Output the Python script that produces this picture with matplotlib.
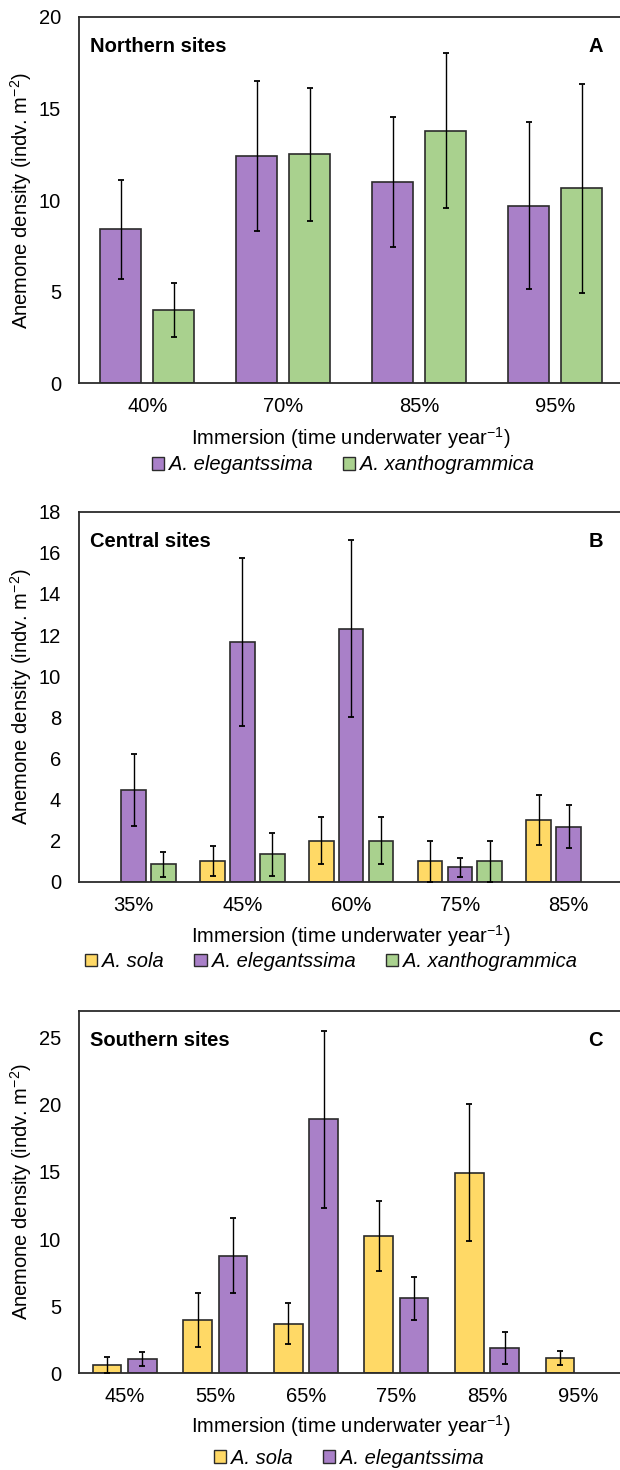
import matplotlib.pyplot as plt
import numpy as np
from matplotlib.patches import Patch
from matplotlib import rcParams

rcParams['font.family'] = ['Liberation Sans', 'DejaVu Sans']
rcParams['mathtext.fontset'] = 'custom'
rcParams['mathtext.rm'] = 'Liberation Sans'
rcParams['mathtext.it'] = 'Liberation Sans:italic'

# panel A - northern sites
cats_a = ['40%', '70%', '85%', '95%']
eleg_a = [8.4, 12.4, 11.0, 9.7]
eleg_a_err = [2.7, 4.1, 3.55, 4.55]
xan_a = [4.0, 12.5, 13.8, 10.65]
xan_a_err = [1.45, 3.65, 4.25, 5.7]

# panel B - central sites
cats_b = ['35%', '45%', '60%', '75%', '85%']
sola_b = [np.nan, 1.0, 2.0, 1.0, 3.0]
sola_b_err = [np.nan, 0.72, 1.13, 1.0, 1.22]
eleg_b = [4.45, 11.65, 12.3, 0.7, 2.68]
eleg_b_err = [1.76, 4.08, 4.3, 0.45, 1.05]
xan_b = [0.85, 1.33, 2.0, 1.0, np.nan]
xan_b_err = [0.6, 1.05, 1.13, 1.0, np.nan]

# panel C - southern sites
cats_c = ['45%', '55%', '65%', '75%', '85%', '95%']
sola_c = [0.65, 3.95, 3.7, 10.25, 14.95, 1.15]
sola_c_err = [0.6, 2.0, 1.55, 2.6, 5.1, 0.5]
eleg_c = [1.05, 8.75, 18.9, 5.57, 1.9, np.nan]
eleg_c_err = [0.5, 2.8, 6.6, 1.6, 1.2, np.nan]

PURPLE = '#a980c8'
GREEN = '#a9d18e'
YELLOW = '#ffd966'
EDGE = '#2b2b2b'
FS = 14.5

W, H = 620, 1470
fig = plt.figure(figsize=(6.2, 14.7), dpi=100)


def fy(py):
    return 1 - py / H


def panel(top, bottom, cats, series, offsets, width, ymax, yticks,
          title, letter, xlab_y, leg_y, leg_x):
    left, right = 79.3, 623.0
    ax = fig.add_axes([left / W, fy(bottom), (right - left) / W, (bottom - top) / H])
    x = np.arange(len(cats))
    for (vals, errs, col, lab), off in zip(series, offsets):
        vals = np.array(vals)
        errs = np.array(errs)
        m = ~np.isnan(vals)
        ax.bar(x[m] + off, vals[m], width, color=col, edgecolor=EDGE, linewidth=1.2, zorder=2)
        ax.errorbar(x[m] + off, vals[m], yerr=errs[m], fmt='none', ecolor='black',
                    elinewidth=1.0, capsize=2.5, capthick=1.3, zorder=3)
    ax.set_xlim(-0.5, len(cats) - 0.5)
    ax.set_ylim(0, ymax)
    ax.set_yticks(yticks)
    ax.set_xticks(x)
    ax.set_xticklabels(cats)
    ax.tick_params(axis='both', length=0, labelsize=FS)
    ax.tick_params(axis='x', pad=10)
    ax.tick_params(axis='y', pad=13)
    for s in ax.spines.values():
        s.set_color(EDGE)
        s.set_linewidth(1.3)
    ax.set_ylabel('Anemone density (indv. m$^{-2}$)', fontsize=FS, va='center')
    ax.yaxis.set_label_coords(21 / W, fy((top + bottom) / 2), transform=fig.transFigure)
    ax.set_xlabel('Immersion (time underwater year$^{-1}$)', fontsize=FS, va='center')
    ax.xaxis.set_label_coords(351 / W, fy(xlab_y), transform=fig.transFigure)
    h = bottom - top
    ax.text(11 / (right - left), 1 - 30 / h, title, transform=ax.transAxes,
            fontsize=FS, fontweight='bold', va='center', ha='left')
    ax.text(1 - 20 / (right - left), 1 - 30 / h, letter, transform=ax.transAxes,
            fontsize=FS, fontweight='bold', va='center', ha='right')
    handles = [Patch(facecolor=col, edgecolor=EDGE, linewidth=1.0, label=lab)
               for vals, errs, col, lab in series]
    fig.legend(handles=handles, loc='center', bbox_to_anchor=(leg_x / W, fy(leg_y)),
               ncol=len(handles), frameon=False, prop={'size': FS, 'style': 'italic'},
               handlelength=0.6, handleheight=0.6, handletextpad=0.25,
               columnspacing=1.5, borderpad=0)
    return ax


panel(17, 383.3, cats_a,
      [(eleg_a, eleg_a_err, PURPLE, 'A. elegantssima'),
       (xan_a, xan_a_err, GREEN, 'A. xanthogrammica')],
      [-0.195, 0.195], 0.30, 20, [0, 5, 10, 15, 20],
      'Northern sites', 'A', 438, 465, 343)

panel(511.7, 881.7, cats_b,
      [(sola_b, sola_b_err, YELLOW, 'A. sola'),
       (eleg_b, eleg_b_err, PURPLE, 'A. elegantssima'),
       (xan_b, xan_b_err, GREEN, 'A. xanthogrammica')],
      [-0.274, 0.0, 0.274], 0.227, 18, list(range(0, 19, 2)),
      'Central sites', 'B', 936, 961.7, 331)

panel(1010.7, 1373.3, cats_c,
      [(sola_c, sola_c_err, YELLOW, 'A. sola'),
       (eleg_c, eleg_c_err, PURPLE, 'A. elegantssima')],
      [-0.195, 0.195], 0.317, 27, [0, 5, 10, 15, 20, 25],
      'Southern sites', 'C', 1426, 1458, 349)

fig.savefig('out.png', dpi=100)
